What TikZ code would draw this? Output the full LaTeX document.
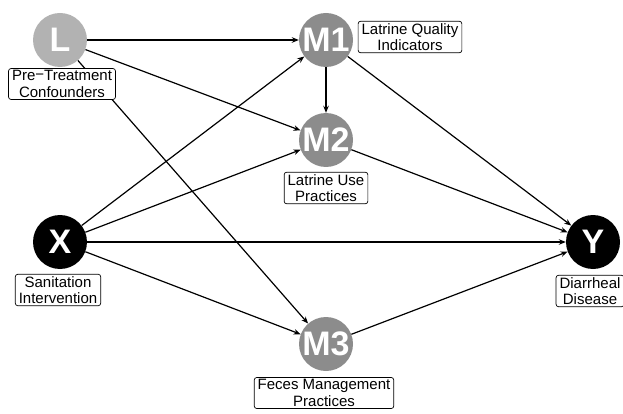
\documentclass[tikz,border=0pt]{standalone}
\usepackage{fontspec}
\setmainfont{Liberation Sans}
\usetikzlibrary{arrows.meta}
\begin{document}
\begin{tikzpicture}[x=1pt,y=-1pt,
  var/.style={circle,minimum size=54pt,inner sep=0pt,text=white,font=\fontsize{34}{34}\selectfont\bfseries},
  lab/.style={draw,rounded corners=2.5pt,fill=white,align=center,inner xsep=3.5pt,inner ysep=2pt,font=\fontsize{15}{16.5}\selectfont,line width=0.7pt},
  edge/.style={-{Stealth[length=7pt,width=5.5pt]},line width=1.2pt}]
\useasboundingbox (0,0) rectangle (623,414);
\node[var,fill=black!30] (L) at (60,40) {L};
\node[var,fill=black!45] (M1) at (326,40) {M1};
\node[var,fill=black!45] (M2) at (326,140) {M2};
\node[var,fill=black!45] (M3) at (326,344) {M3};
\node[var,fill=black] (X) at (60,242) {X};
\node[var,fill=black] (Y) at (593,242) {Y};
\draw[edge] (L) -- (M1);
\draw[edge] (L) -- (M2);
\draw[edge] (L) -- (M3);
\draw[edge] (X) -- (M1);
\draw[edge] (X) -- (M2);
\draw[edge] (X) -- (Y);
\draw[edge] (X) -- (M3);
\draw[edge] (M1) -- (M2);
\draw[edge] (M1) -- (Y);
\draw[edge] (M2) -- (Y);
\draw[edge] (M3) -- (Y);
\node[lab] (Llab) at (62,84) {Pre\raisebox{0.15ex}{−}Treatment\\Confounders};
\node[lab] (M1lab) at (410,37) {Latrine Quality\\Indicators};
\node[lab] (M2lab) at (326,188) {Latrine Use\\Practices};
\node[lab] (Xlab) at (58,290) {Sanitation\\Intervention};
\node[lab] (Ylab) at (590,291) {Diarrheal\\Disease};
\node[lab] (M3lab) at (324,393) {Feces Management\\Practices};
\end{tikzpicture}
\end{document}
